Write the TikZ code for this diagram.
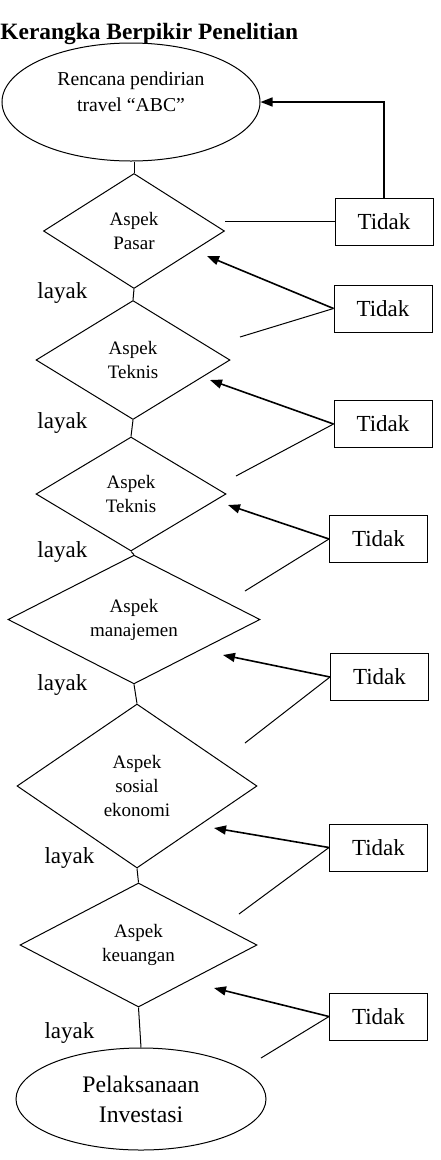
\documentclass[tikz,border=0pt]{standalone}
\usepackage{fontspec}
\setmainfont{Liberation Serif}
\usetikzlibrary{shapes.geometric,arrows.meta}
\begin{document}
\begin{tikzpicture}[x=1pt,y=-1pt,line width=1pt,
  aspek/.style={diamond,draw,inner sep=0pt,align=center,font=\fontsize{19}{24}\selectfont},
  oval/.style={ellipse,draw,inner sep=0pt,align=center},
  kotak/.style={draw,minimum width=98pt,minimum height=47pt,inner sep=0pt,font=\fontsize{23}{27}\selectfont},
  ket/.style={anchor=west,inner sep=0pt,font=\fontsize{23}{27}\selectfont},
  panah/.style={line width=1.6pt,-{Triangle[length=12pt,width=9pt]}}]
\useasboundingbox (0,0) rectangle (441,1160);
\node[anchor=base west,inner sep=0pt,font=\bfseries\fontsize{23.4}{28}\selectfont] (judul) at (0,39) {Kerangka Berpikir Penelitian};
% alur utama
\node[oval,minimum width=258pt,minimum height=118pt] (rencana) at (131,102) {};
\node[align=center,font=\fontsize{19.7}{26}\selectfont] (rencanateks) at (131,92) {Rencana pendirian\\travel “ABC”};
\node[aspek,minimum width=181pt,minimum height=115pt] (pasar) at (134,231) {Aspek\\Pasar};
\node[aspek,minimum width=194pt,minimum height=119pt] (teknis1) at (133,360) {Aspek\\Teknis};
\node[aspek,minimum width=190pt,minimum height=114pt] (teknis2) at (131,494) {Aspek\\Teknis};
\node[aspek,minimum width=252pt,minimum height=115pt] (manajemen) at (134,619.5) {Aspek\\manajemen};
\node[aspek,minimum width=240pt,minimum height=164pt] (sosial) at (137,786) {Aspek\\sosial\\ekonomi};
\node[aspek,minimum width=237pt,minimum height=124pt] (keuangan) at (138.5,945) {Aspek\\keuangan};
\node[oval,minimum width=250pt,minimum height=102pt,font=\fontsize{23.7}{30}\selectfont] (investasi) at (141,1099) {Pelaksanaan\\Investasi};
\draw (pasar.north |- rencana.south) -- (pasar.north);
\draw (pasar.south) -- (teknis1.north);
\draw (teknis1.south) -- (teknis2.north);
\draw (teknis2.south) -- (manajemen.north);
\draw (manajemen.south) -- (sosial.north);
\draw (sosial.south) -- (keuangan.north);
\draw (keuangan.south) -- (investasi.north);
\node[ket] (layak1) at (37,293) {layak};
\node[ket] (layak2) at (37,423) {layak};
\node[ket] (layak3) at (37,552) {layak};
\node[ket] (layak4) at (37,685) {layak};
\node[ket] (layak5) at (44,858) {layak};
\node[ket] (layak6) at (44,1033) {layak};
% kotak tidak layak
\node[kotak] (tidak1) at (384,221.5) {Tidak};
\node[kotak] (tidak2) at (383,308.5) {Tidak};
\node[kotak] (tidak3) at (383,424) {Tidak};
\node[kotak] (tidak4) at (378.5,539) {Tidak};
\node[kotak] (tidak5) at (379.5,677) {Tidak};
\node[kotak] (tidak6) at (378.5,847.5) {Tidak};
\node[kotak] (tidak7) at (378.5,1016.5) {Tidak};
\draw (pasar.east |- tidak1.west) -- (tidak1.west);
\draw[panah] (tidak1.north) |- (rencana.east);
\coordinate (u2) at (207,256);
\coordinate (v2) at (240,337);
\draw[panah] (tidak2.west) -- (u2);
\draw (tidak2.west) -- (v2);
\coordinate (u3) at (210,380);
\coordinate (v3) at (236,476);
\draw[panah] (tidak3.west) -- (u3);
\draw (tidak3.west) -- (v3);
\coordinate (u4) at (228,505);
\coordinate (v4) at (245,591);
\draw[panah] (tidak4.west) -- (u4);
\draw (tidak4.west) -- (v4);
\coordinate (u5) at (223,655);
\coordinate (v5) at (245,743);
\draw[panah] (tidak5.west) -- (u5);
\draw (tidak5.west) -- (v5);
\coordinate (u6) at (214,828);
\coordinate (v6) at (239,914);
\draw[panah] (tidak6.west) -- (u6);
\draw (tidak6.west) -- (v6);
\coordinate (u7) at (214,988);
\coordinate (v7) at (261,1058);
\draw[panah] (tidak7.west) -- (u7);
\draw (tidak7.west) -- (v7);
\end{tikzpicture}
\end{document}
